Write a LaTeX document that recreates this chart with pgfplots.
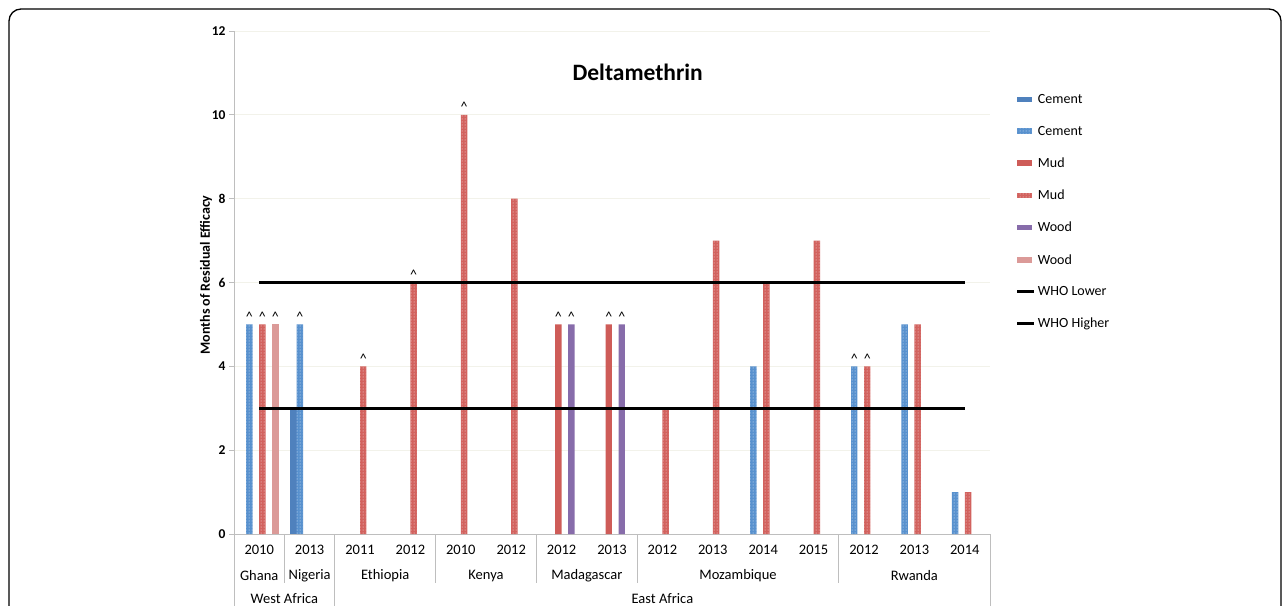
\documentclass[border=0pt]{standalone}
\usepackage{pgfplots}
\pgfplotsset{compat=1.18}
\usepackage{fontspec}
\setmainfont{Carlito}
\usetikzlibrary{patterns}
\definecolor{cemA}{RGB}{79,129,189}
\definecolor{cemB}{RGB}{88,145,206}
\definecolor{mudA}{RGB}{206,92,88}
\definecolor{mudB}{RGB}{210,98,94}
\definecolor{woodA}{RGB}{135,108,170}
\definecolor{woodB}{RGB}{219,154,152}
\definecolor{gridc}{RGB}{242,242,234}
\definecolor{axc}{RGB}{190,190,190}
\pgfplotsset{
  barlegend/.style={legend image code/.code={\fill[##1] (0pt,-2.5pt) rectangle (15pt,3pt);}},
  dotted bar/.style={postaction={pattern=dots, pattern color=white!85!#1}},
}
\begin{document}
\begin{tikzpicture}
\useasboundingbox (0pt,0pt) rectangle (1287pt,-605pt);
\draw[line width=1.3pt, rounded corners=12pt] (9pt,-9pt) rectangle (1281pt,-680pt);
\begin{axis}[
  at={(234pt,-534pt)}, anchor=south west,
  width=756pt, height=503pt, scale only axis,
  xmin=-0.5, xmax=14.5, ymin=0, ymax=12,
  ytick={0,2,...,12},
  xtick={0,...,14},
  xticklabels={2010,2013,2011,2012,2010,2012,2012,2013,2012,2013,2014,2015,2012,2013,2014},
  axis x line*=bottom, axis y line*=left,
  axis line style={axc, line width=0.9pt},
  xtick style={draw=none},
  ytick style={axc, line width=0.9pt},
  tick align=outside, major tick length=5pt,
  ymajorgrids, grid style={gridc, line width=1pt},
  /pgf/number format/assume math mode=true,
  yticklabel style={font=\bfseries\fontsize{13.5}{16}\selectfont},
  xticklabel style={font=\fontsize{14.5}{17}\selectfont, yshift=-3pt},
  every axis y label/.style={at={(axis description cs:-0.037,0.515)}, rotate=90, anchor=center, font=\bfseries\fontsize{14}{16}\selectfont},
  ylabel={Months of Residual Efficacy},
  clip=false,
  legend style={at={(1.034,0.878)}, anchor=north west, draw=none, fill=none,
    font=\fontsize{14}{16}\selectfont, row sep=17pt, inner sep=0pt},
  legend cell align=left,
]
% Cement (solid)
\addplot[ybar, bar width=0.128, bar shift=-0.3225, draw=none, fill=cemA, barlegend] coordinates {(1,3)};
% Cement (dotted)
\addplot[ybar, bar width=0.128, bar shift=-0.1935, draw=none, fill=cemB, dotted bar=cemB, barlegend] coordinates {(0,5) (1,5) (10,4) (12,4) (13,5) (14,1)};
% Mud (solid)
\addplot[ybar, bar width=0.128, bar shift=-0.0645, draw=none, fill=mudA, barlegend] coordinates {(6,5) (7,5)};
% Mud (dotted)
\addplot[ybar, bar width=0.128, bar shift=0.0645, draw=none, fill=mudB, dotted bar=mudB, barlegend] coordinates {(0,5) (2,4) (3,6) (4,10) (5,8) (8,3) (9,7) (10,6) (11,7) (12,4) (13,5) (14,1)};
% Wood (purple)
\addplot[ybar, bar width=0.128, bar shift=0.1935, draw=none, fill=woodA, barlegend] coordinates {(6,5) (7,5)};
% Wood (pink)
\addplot[ybar, bar width=0.128, bar shift=0.3225, draw=none, fill=woodB, barlegend] coordinates {(0,5)};
% WHO lines
\addplot[black, line width=3pt, mark=none] coordinates {(0,3) (14,3)};
\addplot[black, line width=3pt, mark=none] coordinates {(0,6) (14,6)};
\legend{Cement,Cement,Mud,Mud,Wood,Wood,WHO Lower,WHO Higher}
% carets (at the bar positions)
\addplot[only marks, mark=none, forget plot,
  nodes near coords={\textasciicircum},
  every node near coord/.append style={font=\fontsize{14}{16}\selectfont, anchor=south, inner sep=3pt}]
  coordinates {(-0.1935,5) (0.8065,5) (11.8065,4)
               (5.9355,5) (6.9355,5)
               (0.0645,5) (2.0645,4) (3.0645,6) (4.0645,10) (12.0645,4)
               (6.1935,5) (7.1935,5)
               (0.3225,5)};
% title
\node[font=\bfseries\fontsize{23.5}{28}\selectfont] at (rel axis cs:0.534,0.918) {Deltamethrin};
% category separators
\pgfplotsinvokeforeach{-0.5,1.5,14.5}{\draw[axc, line width=0.9pt] (axis cs:#1,0) -- ++(0pt,-80pt);}
\pgfplotsinvokeforeach{0.5,3.5,5.5,7.5,11.5}{\draw[axc, line width=0.9pt] (axis cs:#1,0) -- ++(0pt,-49pt);}
% country labels
\node[font=\fontsize{14.5}{17}\selectfont] at ([yshift=-42pt]axis cs:0,0) {Ghana};
\node[font=\fontsize{14.5}{17}\selectfont] at ([yshift=-42pt]axis cs:1,0) {Nigeria};
\node[font=\fontsize{14.5}{17}\selectfont] at ([yshift=-42pt]axis cs:2.5,0) {Ethiopia};
\node[font=\fontsize{14.5}{17}\selectfont] at ([yshift=-42pt]axis cs:4.5,0) {Kenya};
\node[font=\fontsize{14.5}{17}\selectfont] at ([yshift=-42pt]axis cs:6.5,0) {Madagascar};
\node[font=\fontsize{14.5}{17}\selectfont] at ([yshift=-42pt]axis cs:9.5,0) {Mozambique};
\node[font=\fontsize{14.5}{17}\selectfont] at ([yshift=-42pt]axis cs:13,0) {Rwanda};
\node[font=\fontsize{14.5}{17}\selectfont] at ([yshift=-65pt]axis cs:0.5,0) {West Africa};
\node[font=\fontsize{14.5}{17}\selectfont] at ([yshift=-65pt]axis cs:8,0) {East Africa};
\end{axis}
\end{tikzpicture}
\end{document}
